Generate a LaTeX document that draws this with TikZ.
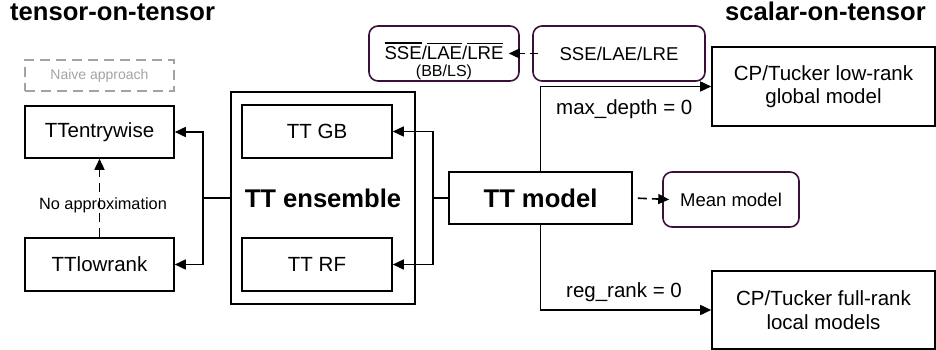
\documentclass[tikz,border=0pt]{standalone}
\usepackage{fontspec}
\setmainfont{Liberation Sans}
\usepackage{xcolor}
\usetikzlibrary{arrows.meta, positioning, calc}

\definecolor{plum}{HTML}{3A0F3A}
\definecolor{ghost}{HTML}{A3A3A3}
\newcommand{\bodyfont}{\fontsize{20.5}{23.5}\selectfont}
\newcommand{\headfont}{\fontsize{25.6}{30}\selectfont\bfseries}
% 上划线
\newcommand{\barred}[1]{\setbox0\hbox{#1}\rlap{\raisebox{\dimexpr\ht0+2.5pt\relax}{\rule{\wd0}{1.2pt}}}\box0}

\begin{document}
\begin{tikzpicture}[
            x=1pt,
            y=-1pt,
            >={Triangle[length=11pt,width=10pt]},
            box/.style={draw, line width=1.6pt, inner sep=0pt, align=center, font=\bodyfont},
            softbox/.style={box, draw=plum, rounded corners=9pt},
            ghostbox/.style={draw=ghost, text=ghost, line width=1.5pt, dash pattern=on 10pt off 6pt,
                             inner sep=0pt, font=\fontsize{14}{16}\selectfont},
            arr/.style={->, line width=1.6pt},
            lbl/.style={inner sep=0pt, anchor=base west, font=\bodyfont}
            ]
            \useasboundingbox (0,0) rectangle (936,350);

            % 标题
            \node[lbl, font=\headfont] (tot) at (10,21) {tensor-on-tensor};
            \node[lbl, font=\headfont] (sot) at (725,21) {scalar-on-tensor};

            % 左侧
            \node[ghostbox, minimum width=149, minimum height=31] (naive) at (99.5,75.5) {Naive approach};
            \node[box, minimum width=149, minimum height=52] (ent) at (99.5,132) {TTentrywise};
            \node[box, minimum width=149, minimum height=53] (low) at (99.5,264.5) {TTlowrank};
            \node[inner sep=0pt, font=\fontsize{16.3}{18}\selectfont] (noapp) at (103,205) {No approximation};

            % 集成
            \node[box, font=\headfont, minimum width=184, minimum height=212] (ens) at (323,198) {TT ensemble};
            \node[box, minimum width=150, minimum height=53] (gb) at (317,131.5) {TT GB};
            \node[box, minimum width=150, minimum height=53] (rf) at (317,264.5) {TT RF};

            % TT model
            \node[box, font=\headfont, minimum width=183, minimum height=52] (ttm) at (540.5,198) {TT model};
            \node[softbox, font=\fontsize{18.5}{20}\selectfont, minimum width=136, minimum height=55] (mean) at (731,199.5) {Mean model};

            % 右侧
            \node[box, minimum width=223, minimum height=79] (glob) at (823.5,86.5) {CP/Tucker low-rank\\global model};
            \node[box, minimum width=223, minimum height=78] (loc) at (823.5,310) {CP/Tucker full-rank\\local models};
            \node[softbox, font=\fontsize{18.6}{20}\selectfont, minimum width=172, minimum height=55] (sse) at (619,53.5) {SSE/LAE/LRE};
            \node[softbox, minimum width=150, minimum height=55] (ssebar) at (444,53.5) {};
            \node[inner sep=0pt, align=center, font=\fontsize{18.6}{17}\selectfont] (ssebartxt) at (444,61)
                {\barred{SSE}/\barred{LAE}/\barred{LRE}\\{\fontsize{16}{17}\selectfont(BB/LS)}};

            \node[lbl] (mdlbl) at (556,114) {max\_depth = 0};
            \node[lbl] (rrlbl) at (566,297) {reg\_rank = 0};

            % 分支点
            \coordinate (split1) at (203,198);
            \coordinate (split2) at (433,198);

            % 连线
            \draw[arr] (ens.west) -- (split1) |- (ent.east);
            \draw[arr] (split1) |- (low.east);
            \draw[arr] (ttm.west) -- (split2) |- (gb.east);
            \draw[arr] (split2) |- (rf.east);
            \draw[arr] (ttm.north) |- (glob.west);
            \draw[arr] (ttm.south) |- (loc.west);
            \draw[arr, dash pattern=on 9pt off 5pt, dash phase=-5pt] (ttm.east) -- ([xshift=7pt]mean.west);
            \draw[arr, dash pattern=on 8pt off 5pt] ([xshift=6pt]sse.west) -- ([xshift=-11pt]ssebar.east);
            \draw[arr, dash pattern=on 9pt off 6pt] (low.north) -- (ent.south);
        \end{tikzpicture}
\end{document}
